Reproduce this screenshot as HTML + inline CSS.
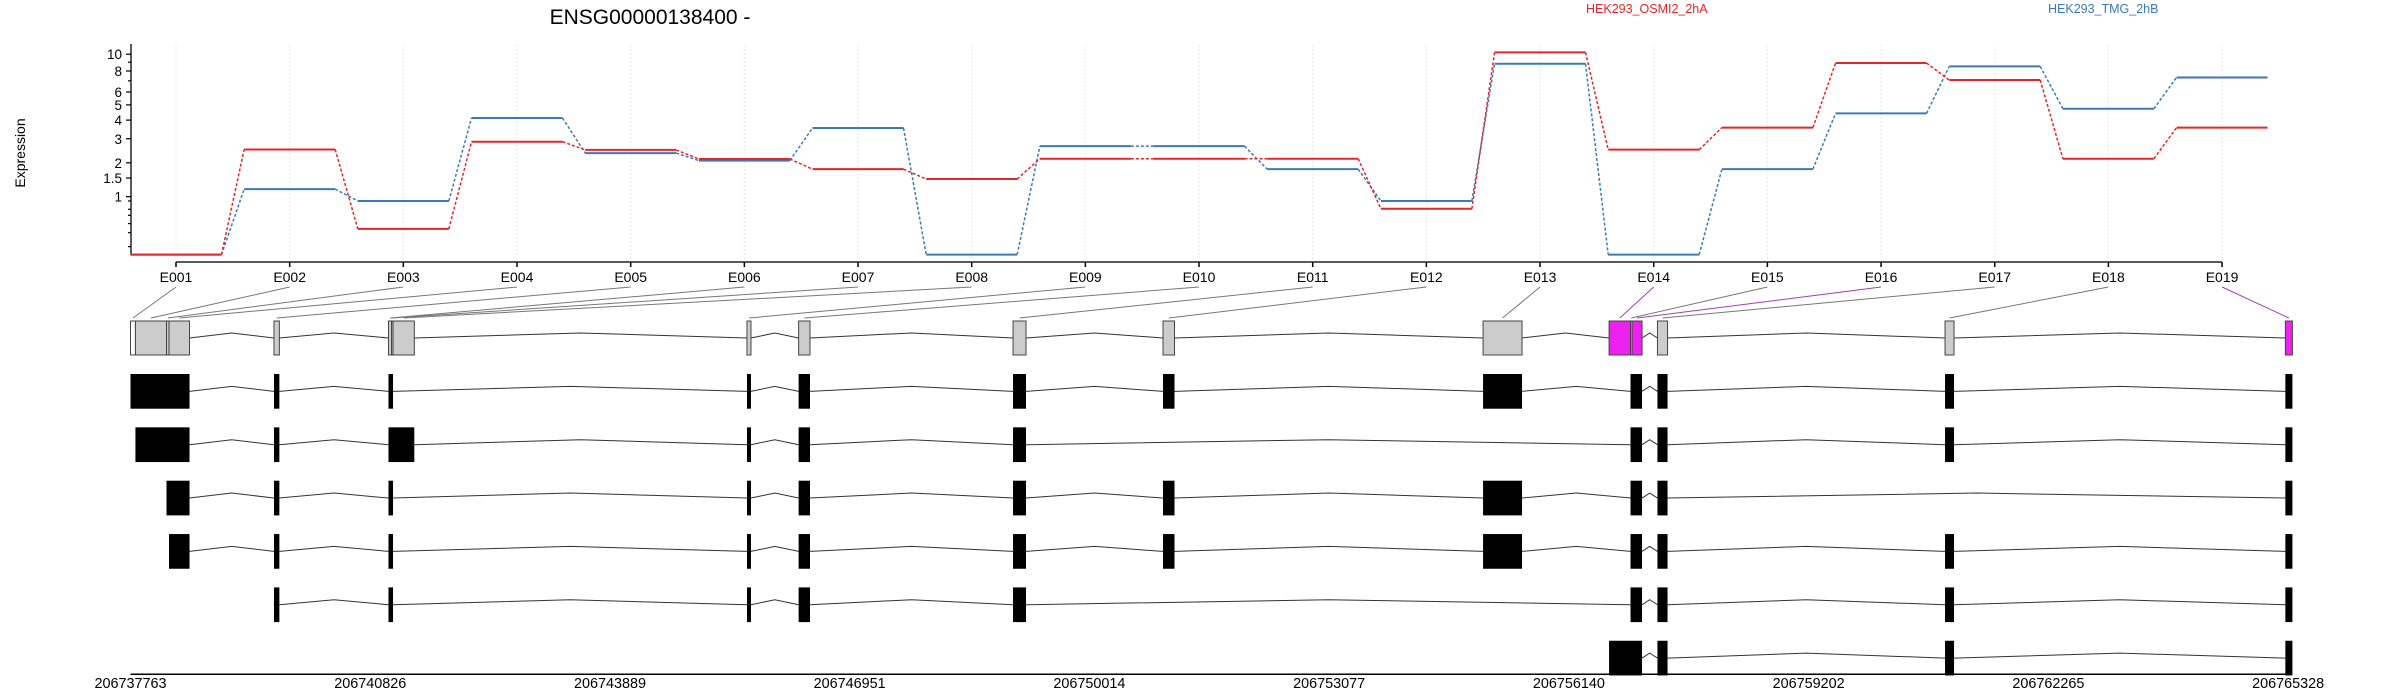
<!DOCTYPE html>
<html><head><meta charset="utf-8"><style>
html,body{margin:0;padding:0;background:#fff;}
svg{display:block;font-family:"Liberation Sans",sans-serif;}
</style></head><body>
<svg id="chart" width="2400" height="700" viewBox="0 0 2400 700" xmlns="http://www.w3.org/2000/svg">
<text x="650" y="24" font-size="21" text-anchor="middle" fill="#000">ENSG00000138400 -</text>
<text x="1586" y="13" font-size="12.5" fill="#e3262b">HEK293_OSMI2_2hA</text>
<text x="2048" y="13" font-size="12.5" fill="#3d7ab5">HEK293_TMG_2hB</text>
<text x="0" y="0" font-size="14" text-anchor="middle" transform="translate(25,153) rotate(-90)">Expression</text>
<g id="grid"></g><g id="axes"></g><g id="series"></g><g id="gene"></g>
</svg>
<script>
const exonLabels = ["E001","E002","E003","E004","E005","E006","E007","E008","E009","E010","E011","E012","E013","E014","E015","E016","E017","E018","E019"];
const seriesOSMI2 = [0,2.52,0.36,2.86,2.5,2.14,1.78,1.47,2.15,2.15,2.15,0.73,10.24,2.51,3.57,8.9,7.08,2.15,3.57];
const seriesTMG = [0,1.19,0.9,4.13,2.37,2.08,3.55,0,2.66,2.66,1.78,0.9,8.82,0,1.78,4.42,8.51,4.73,7.33];
const yTickValues = [1,1.5,2,3,4,5,6,8,10];
const yMinorValues = [0.1,0.3,0.45,0.6,0.72,0.9,7,9];
const geneStart = 206737763;
const genomicTicks = [206737763,206740826,206743889,206746951,206750014,206753077,206756140,206759202,206762265,206765328];
const exonStarts = [0,63,460,492,1833,3296,3335,3354,7876,8536,11275,13191,17280,18890,19164,19183,19508,23182,27530];
const exonEnds = [63,460,492,754,1902,3335,3354,3626,7927,8681,11441,13338,17778,19164,19183,19311,19637,23297,27620];
const exonSignificant = [0,0,0,0,0,0,0,0,0,0,0,0,0,1,0,1,0,0,1];
const transcript1 = [[1,2,3,4],[5],[6,7],[9],[10],[11],[12],[13],[15,16],[17],[18],[19]];
const transcript2 = [[2,3,4],[5],[6,7,8],[9],[10],[11],[15,16],[17],[18],[19]];
const transcript3 = [[3,4],[5],[6,7],[9],[10],[11],[12],[13],[15,16],[17],[19]];
const transcript4 = [[4],[5],[6,7],[9],[10],[11],[12],[13],[15,16],[17],[18],[19]];
const transcript5 = [[5],[6,7],[9],[10],[11],[15,16],[17],[18],[19]];
const transcript6 = [[14,15,16],[17],[18],[19]];

const NS="http://www.w3.org/2000/svg";
function mk(tag,attrs,parent){const e=document.createElementNS(NS,tag);for(const k in attrs)e.setAttribute(k,attrs[k]);parent.appendChild(e);return e;}
const xE = i => 176 + i*113.67;
const yV = v => 254.6 - 192.4*Math.log10(v+1);
const xG = g => 130.5 + (g-geneStart)*239.75/3063;
const grid=document.getElementById('grid'), axes=document.getElementById('axes'), series=document.getElementById('series'), gene=document.getElementById('gene');

exonLabels.forEach((lab,i)=>{
  const gl=mk('line',{x1:xE(i),x2:xE(i),y1:45,y2:260,stroke:'#e6e6ee','stroke-dasharray':'2,2','stroke-width':1},grid);
  
  
  const tk=mk('line',{x1:xE(i),x2:xE(i),y1:262,y2:267,stroke:'#000','stroke-width':1.5},axes);
  
  
  const t=mk('text',{x:xE(i),y:282,'font-size':14,'text-anchor':'middle'},axes);
  t.textContent=lab;
  
  
});
const xl=mk('line',{x1:xE(0),x2:xE(exonLabels.length-1),y1:262,y2:262,stroke:'#222','stroke-width':1.5},axes);


const yl=mk('line',{x1:131,x2:131,y1:44,y2:255,stroke:'#222','stroke-width':1.5},axes);


yTickValues.forEach(v=>{
  const tk=mk('line',{x1:126,x2:131,y1:yV(v),y2:yV(v),stroke:'#000','stroke-width':1.2},axes);
  
  
  const t=mk('text',{x:122,y:yV(v)+5,'font-size':13.5,'text-anchor':'end'},axes);
  t.textContent=String(v);
  
  
});
yMinorValues.forEach(v=>{
  const tk=mk('line',{x1:128,x2:131,y1:yV(v),y2:yV(v),stroke:'#000','stroke-width':1.2},axes);
  
  
});

function drawSeries(vals,color,name){
  const g=mk('g',{},series);
  
  
  vals.forEach((v,i)=>{
    const s=mk('line',{x1:xE(i)-45.5,x2:xE(i)+45.5,y1:yV(v),y2:yV(v),stroke:color,'stroke-width':2},g);
    
    
    if(i<vals.length-1){
      const c=mk('line',{x1:xE(i)+45.5,x2:xE(i+1)-45.5,y1:yV(v),y2:yV(vals[i+1]),stroke:color,'stroke-width':1.5,'stroke-dasharray':'3,2'},g);
      
      
    }
  });
}
drawSeries(seriesTMG,'#3d7ab5','tmg');
drawSeries(seriesOSMI2,'#e3262b','osmi2');

// gene model
function intron(x1,x2,ym,parent){
  const p=mk('polyline',{points:`${x1},${ym} ${(x1+x2)/2},${ym-5} ${x2},${ym}`,fill:'none',stroke:'#333','stroke-width':1},parent);
  
  
}
// meta row
const metaG=mk('g',{},gene);


const metaTop=321, metaH=34;
exonLabels.forEach((lab,i)=>{
  const x1=xG(geneStart+exonStarts[i]), x2=xG(geneStart+exonEnds[i]);
  const c=mk('line',{x1:xE(i),y1:287,x2:(x1+x2)/2,y2:metaTop-3,stroke:exonSignificant[i]?'#a040b0':'#777','stroke-width':1},metaG);
  
  
});
for(let i=0;i<exonLabels.length-1;i++){
  const a=xG(geneStart+exonEnds[i]), b=xG(geneStart+exonStarts[i+1]);
  if(b-a>2) intron(a,b,metaTop+metaH/2,metaG);
}
exonLabels.forEach((lab,i)=>{
  const x1=xG(geneStart+exonStarts[i]), x2=xG(geneStart+exonEnds[i]);
  const fill = i===0 ? '#fff' : (exonSignificant[i] ? '#ee22ee' : '#cccccc');
  const r=mk('rect',{x:x1,y:metaTop,width:Math.max(x2-x1,1),height:metaH,fill:fill,stroke:'#444','stroke-width':1},metaG);
  
  
});
// transcripts
const transcripts=[transcript1,transcript2,transcript3,transcript4,transcript5,transcript6];
transcripts.forEach((tr,ti)=>{
  const top=374+ti*53.35, h=34.7;
  const g=mk('g',{},gene);
  
  
  const blocks=tr.map(list=>[xG(geneStart+exonStarts[list[0]-1]), xG(geneStart+exonEnds[list[list.length-1]-1])]);
  for(let k=0;k<blocks.length-1;k++) intron(blocks[k][1],blocks[k+1][0],top+h/2,g);
  blocks.forEach(b=>{
    const r=mk('rect',{x:b[0],y:top,width:Math.max(b[1]-b[0],4),height:h,fill:'#000'},g);
    
    
  });
});
// genomic axis
const ga=mk('line',{x1:xG(genomicTicks[0]),x2:xG(genomicTicks[genomicTicks.length-1]),y1:674.3,y2:674.3,stroke:'#000','stroke-width':1.5},gene);


genomicTicks.forEach(g=>{
  const t=mk('text',{x:xG(g),y:688,'font-size':14.4,'text-anchor':'middle'},gene);
  t.textContent=String(g);
  
  
});
</script>
</body></html>
